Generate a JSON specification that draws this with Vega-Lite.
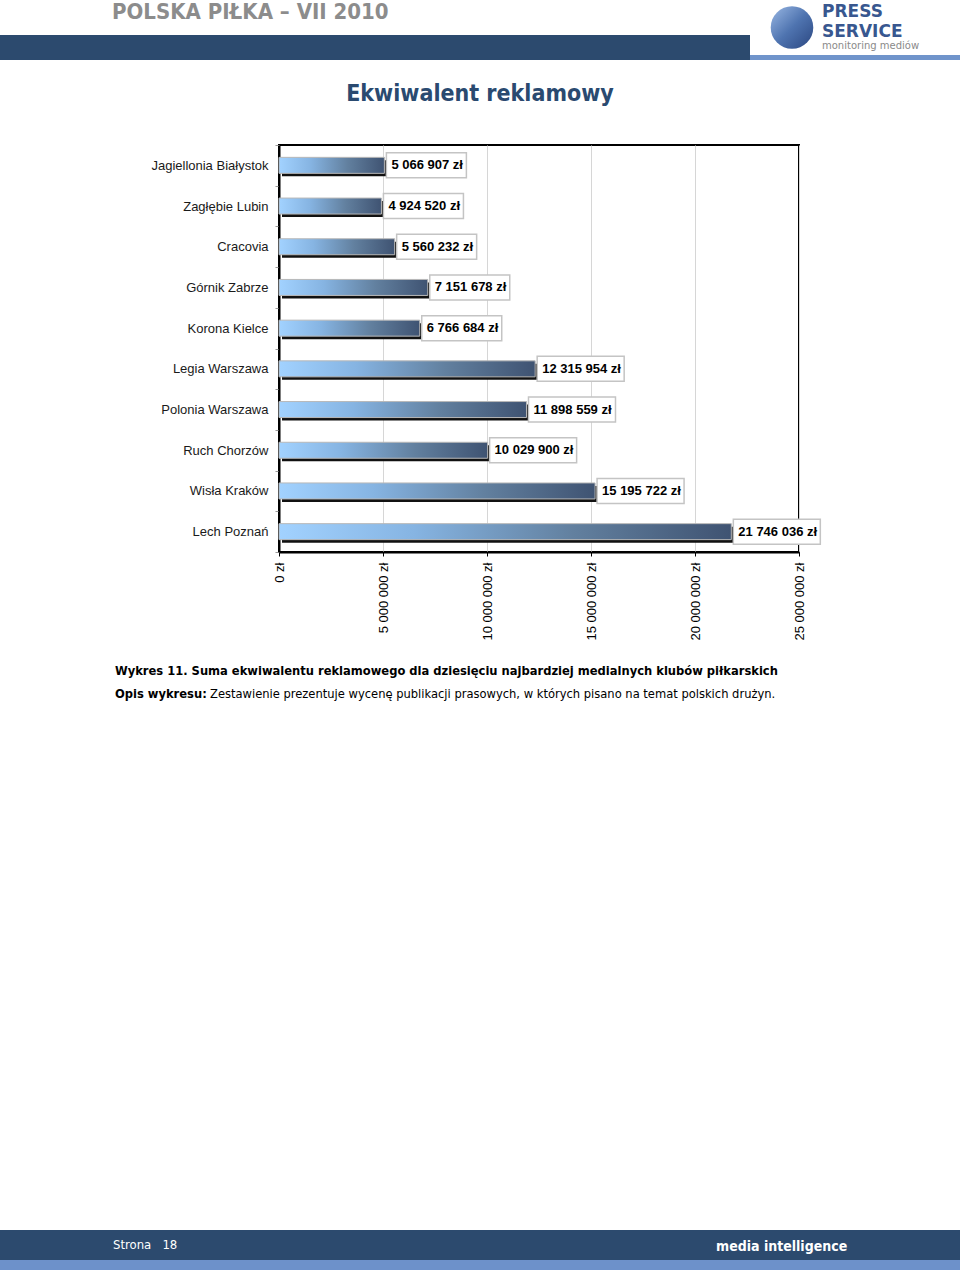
{
  "$schema": "https://vega.github.io/schema/vega-lite/v6.json",
  "padding": 0,
  "background": "white",
  "spacing": 0,
  "bounds": "flush",
  "config": {
    "view": {"stroke": null},
    "locale": {"number": {"decimal": ",", "thousands": " ", "grouping": [3], "currency": ["", " zł"]}}
  },
  "vconcat": [
    {
      "hconcat": [
        {
          "width": 750, "height": 55,
          "data": {"values": []}, "mark": "point",
          "title": {"text": "POLSKA PIŁKA – VII 2010", "anchor": "start", "orient": "top", "offset": -24, "dx": 112,
            "font": "DejaVu Sans Condensed", "fontSize": 22, "fontWeight": "bold", "color": "#8c8c8c"}
        },
        {
          "width": 84, "height": 55,
          "data": {"values": [{"logo": "PRESS SERVICE"}]},
          "mark": {"type": "point", "shape": "circle", "filled": true, "size": 1810, "opacity": 1,
            "fill": {"gradient": "linear", "x1": 0, "y1": 0, "x2": 1, "y2": 1,
              "stops": [{"offset": 0, "color": "#9ab8e4"}, {"offset": 0.5, "color": "#4f74b0"}, {"offset": 1, "color": "#2a4680"}]}}
        },
        {
          "width": 126, "height": 55,
          "data": {"values": []}, "mark": "point",
          "title": {"text": ["PRESS", "SERVICE"], "subtitle": "monitoring mediów", "anchor": "start", "orient": "top", "offset": -52, "dx": -12,
            "font": "DejaVu Sans", "fontSize": 17, "fontWeight": "bold", "color": "#38578f", "lineHeight": 20,
            "subtitleFont": "DejaVu Sans", "subtitleFontSize": 10, "subtitleColor": "#8a8a8a", "subtitlePadding": 0}
        }
      ],
      "spacing": 0, "bounds": "flush"
    },
    {"width": 960, "height": 35, "data": {"values": []}, "mark": "point"},
    {
      "hconcat": [
        {
          "width": 750, "height": 25,
          "data": {"values": []}, "mark": "point",
          "view": {"fill": "#2c4a6e", "stroke": null}
        },
        {
          "vconcat": [
            {"width": 210, "height": 20, "data": {"values": []}, "mark": "point"},
            {
              "width": 210, "height": 5,
              "data": {"values": []}, "mark": "point",
              "view": {"fill": "#7094cb", "stroke": null}
            }
          ],
          "spacing": 0, "bounds": "flush"
        }
      ],
      "spacing": 0, "bounds": "flush"
    },
    {"width": 960, "height": 25, "data": {"values": []}, "mark": "point"},
    {
      "width": 960, "height": 85,
      "data": {"values": []}, "mark": "point",
      "title": {"text": "Ekwiwalent reklamowy", "anchor": "middle", "orient": "top", "offset": -46,
        "font": "DejaVu Sans Condensed", "fontSize": 23, "fontWeight": "bold", "color": "#2a4a70"}
    },
    {
      "hconcat": [
        {"width": 279, "height": 407, "data": {"values": []}, "mark": "point"},
        {
          "width": 520, "height": 407,
          "view": {"stroke": "#000000", "strokeWidth": 2},
          "data": {"values": [
            {"club": "Jagiellonia Białystok", "value": 5066907},
            {"club": "Zagłębie Lubin", "value": 4924520},
            {"club": "Cracovia", "value": 5560232},
            {"club": "Górnik Zabrze", "value": 7151678},
            {"club": "Korona Kielce", "value": 6766684},
            {"club": "Legia Warszawa", "value": 12315954},
            {"club": "Polonia Warszawa", "value": 11898559},
            {"club": "Ruch Chorzów", "value": 10029900},
            {"club": "Wisła Kraków", "value": 15195722},
            {"club": "Lech Poznań", "value": 21746036}
          ]},
          "encoding": {
            "y": {"field": "club", "type": "nominal", "sort": null,
              "scale": {"paddingInner": 0, "paddingOuter": 0},
              "axis": {"title": null, "labelFont": "Liberation Sans", "labelFontSize": 13, "labelColor": "#1a1a1a",
                "labelPadding": 7, "labelLimit": 300, "tickBand": "extent", "tickSize": 4, "tickColor": "#999999",
                "domainColor": "#000000", "domainWidth": 2, "grid": false}}
          },
          "layer": [
            {
              "mark": {"type": "bar", "height": 16, "color": "#111111", "xOffset": 3, "x2Offset": 3, "yOffset": 3},
              "encoding": {
                "x": {"field": "value", "type": "quantitative",
                  "scale": {"domain": [0, 25000000], "nice": false},
                  "axis": {"title": null, "values": [0, 5000000, 10000000, 15000000, 20000000, 25000000],
                    "format": "$,.0f", "labelAngle": 270, "labelFont": "Liberation Sans", "labelFontSize": 13,
                    "labelColor": "#000000", "labelPadding": 6, "labelFlush": false, "labelOverlap": false,
                    "grid": true, "gridColor": "#d6d6d6", "gridWidth": 1,
                    "domainColor": "#000000", "domainWidth": 2, "tickColor": "#000000", "tickSize": 4}}
              }
            },
            {
              "mark": {"type": "bar", "height": 16, "stroke": "#b8b8b8", "strokeWidth": 1,
                "fill": {"gradient": "linear", "x1": 0, "y1": 0, "x2": 1, "y2": 0,
                  "stops": [
                    {"offset": 0, "color": "#a2d2ff"},
                    {"offset": 0.3, "color": "#86b4e2"},
                    {"offset": 0.65, "color": "#62809f"},
                    {"offset": 1, "color": "#3f5372"}
                  ]}},
              "encoding": {"x": {"field": "value", "type": "quantitative"}}
            },
            {
              "mark": {"type": "bar", "height": 25, "fill": "#ffffff", "stroke": "#c4c4c4", "strokeWidth": 1.5,
                "xOffset": 2, "x2Offset": {"expr": "datum.value >= 10000000 ? 89 : 82"}},
              "encoding": {
                "x": {"field": "value", "type": "quantitative"},
                "x2": {"field": "value"}
              }
            },
            {
              "mark": {"type": "text", "align": "left", "baseline": "middle", "dx": 7,
                "font": "Liberation Sans", "fontSize": 13, "fontWeight": "bold", "color": "#000000"},
              "encoding": {
                "x": {"field": "value", "type": "quantitative"},
                "text": {"field": "value", "type": "quantitative", "format": "$,.0f"}
              }
            }
          ]
        },
        {"width": 161, "height": 407, "data": {"values": []}, "mark": "point"}
      ],
      "spacing": 0, "bounds": "flush"
    },
    {"width": 960, "height": 407, "data": {"values": []}, "mark": "point"},
    {
      "hconcat": [
        {"width": 210, "height": 678, "data": {"values": []}, "mark": "point"},
        {
          "width": 750, "height": 678,
          "data": {"values": []}, "mark": "point",
          "title": {"text": "Zestawienie prezentuje wycenę publikacji prasowych, w których pisano na temat polskich drużyn.",
            "anchor": "start", "orient": "top", "offset": -149,
            "font": "DejaVu Sans Condensed", "fontSize": 12.8, "fontWeight": "normal", "color": "#000000"}
        }
      ],
      "spacing": 0, "bounds": "flush"
    },
    {
      "width": 960, "height": 678,
      "data": {"values": []}, "mark": "point",
      "title": {"text": ["Wykres 11. Suma ekwiwalentu reklamowego dla dziesięciu najbardziej medialnych klubów piłkarskich", "Opis wykresu:"],
        "anchor": "start", "orient": "top", "offset": -149, "dx": 115, "lineHeight": 23,
        "font": "DejaVu Sans Condensed", "fontSize": 12.8, "fontWeight": "bold", "color": "#000000"}
    },
    {
      "hconcat": [
        {
          "width": 480, "height": 30,
          "data": {"values": []}, "mark": "point",
          "view": {"fill": "#2c4a6e", "stroke": null},
          "title": {"text": "Strona\u00a0\u00a0 18", "anchor": "start", "orient": "top", "offset": -22, "dx": 113,
            "font": "DejaVu Sans Condensed", "fontSize": 13, "fontWeight": "normal", "color": "#ffffff"}
        },
        {
          "width": 480, "height": 30,
          "data": {"values": []}, "mark": "point",
          "view": {"fill": "#2c4a6e", "stroke": null},
          "title": {"text": "media intelligence", "anchor": "start", "orient": "top", "offset": -24, "dx": 236,
            "font": "DejaVu Sans Condensed", "fontSize": 14, "fontWeight": "bold", "color": "#ffffff"}
        }
      ],
      "spacing": 0, "bounds": "flush"
    },
    {"width": 960, "height": 30, "data": {"values": []}, "mark": "point"},
    {
      "width": 960, "height": 10,
      "data": {"values": []}, "mark": "point",
      "view": {"fill": "#6d91ca", "stroke": null}
    },
    {"width": 960, "height": 7, "data": {"values": []}, "mark": "point"}
  ]
}
